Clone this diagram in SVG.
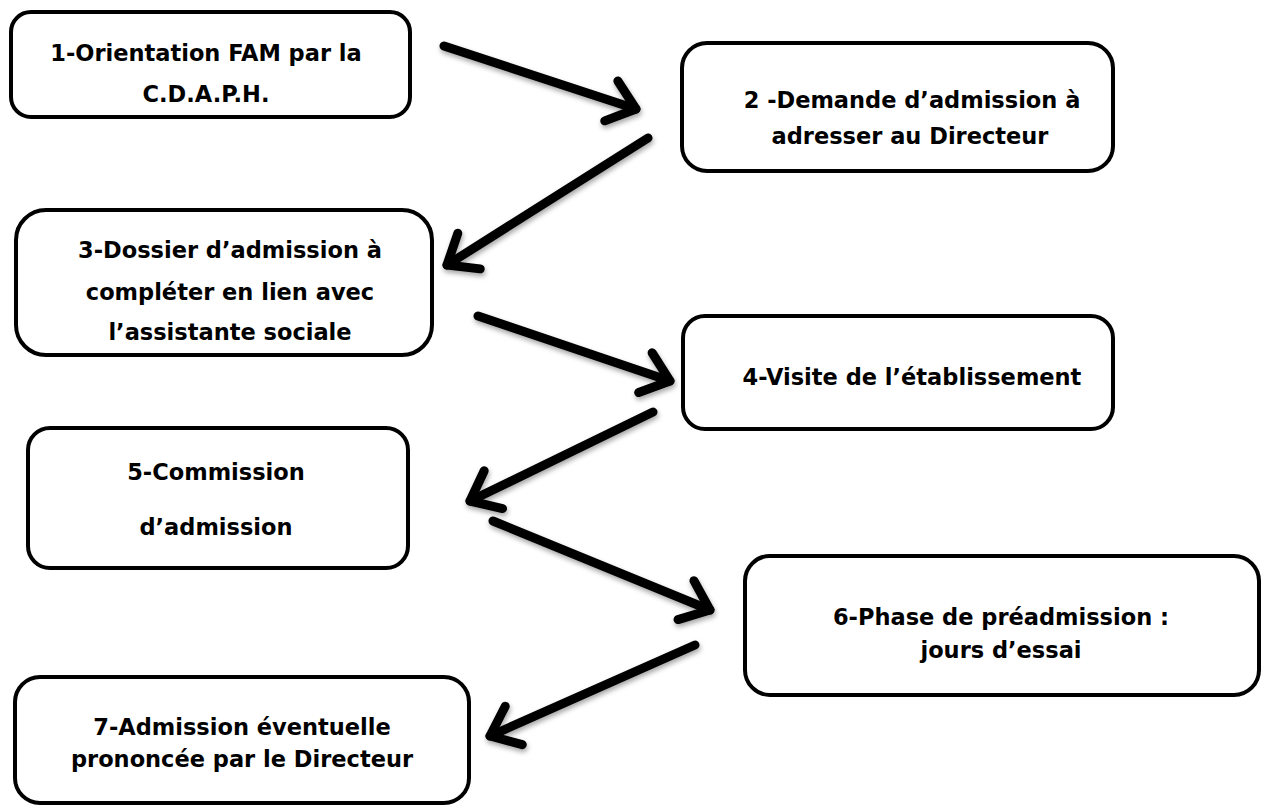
<svg xmlns="http://www.w3.org/2000/svg" width="1261" height="805" viewBox="0 0 1261 805">
  <style>
    .box { fill: #ffffff; stroke: #000000; stroke-width: 4; }
    .lbl { font-family: "DejaVu Sans", "Liberation Sans", sans-serif; font-weight: bold; font-size: 22.5px; fill: #000000; text-anchor: middle; }
    .arr { fill: none; stroke: #000000; stroke-width: 9; stroke-linecap: round; stroke-linejoin: round; }
  </style>
  <defs>
    <filter id="sh" x="-20%" y="-20%" width="140%" height="140%">
      <feDropShadow dx="1" dy="3" stdDeviation="2.5" flood-color="#000000" flood-opacity="0.35"/>
    </filter>
    <marker id="vhead" markerUnits="userSpaceOnUse" markerWidth="80" markerHeight="80" viewBox="-40 -40 80 80" refX="0" refY="0" orient="auto" overflow="visible">
      <path d="M -26 -21 L 0 0 L -26 21" fill="none" stroke="#000000" stroke-width="9" stroke-linecap="round" stroke-linejoin="round"/>
    </marker>
  </defs>
  <rect width="1261" height="805" fill="#ffffff"/>

  <g id="connectors" filter="url(#sh)">
    <line class="arr" x1="444" y1="46" x2="636" y2="109" marker-end="url(#vhead)"/>
    <line class="arr" x1="648" y1="138" x2="447" y2="265" marker-end="url(#vhead)"/>
    <line class="arr" x1="478" y1="316" x2="670" y2="381" marker-end="url(#vhead)"/>
    <line class="arr" x1="653" y1="412" x2="470" y2="501" marker-end="url(#vhead)"/>
    <line class="arr" x1="493" y1="521" x2="710" y2="610" marker-end="url(#vhead)"/>
    <line class="arr" x1="695" y1="645" x2="490" y2="736" marker-end="url(#vhead)"/>
  </g>

  <g id="node1">
    <rect class="box" x="11" y="12" width="399" height="105" rx="20"/>
    <text class="lbl" x="206" y="61">1-Orientation FAM par la</text>
    <text class="lbl" x="206" y="102">C.D.A.P.H.</text>
  </g>
  <g id="node2">
    <rect class="box" x="682" y="43" width="431" height="128" rx="25"/>
    <text class="lbl" x="912" y="108">2 -Demande d’admission à</text>
    <text class="lbl" x="910" y="144">adresser au Directeur</text>
  </g>
  <g id="node3">
    <rect class="box" x="16" y="210" width="416" height="145" rx="30"/>
    <text class="lbl" x="230" y="258">3-Dossier d’admission à</text>
    <text class="lbl" x="230" y="300">compléter en lien avec</text>
    <text class="lbl" x="230" y="340">l’assistante sociale</text>
  </g>
  <g id="node4">
    <rect class="box" x="683" y="316" width="430" height="113" rx="22"/>
    <text class="lbl" x="912" y="385">4-Visite de l’établissement</text>
  </g>
  <g id="node5">
    <rect class="box" x="28" y="428" width="380" height="140" rx="22"/>
    <text class="lbl" x="216" y="480">5-Commission</text>
    <text class="lbl" x="216" y="535">d’admission</text>
  </g>
  <g id="node6">
    <rect class="box" x="745" y="556" width="514" height="139" rx="25"/>
    <text class="lbl" x="1001" y="625">6-Phase de préadmission :</text>
    <text class="lbl" x="1001" y="658">jours d’essai</text>
  </g>
  <g id="node7">
    <rect class="box" x="15" y="677" width="454" height="126" rx="25"/>
    <text class="lbl" x="242" y="735">7-Admission éventuelle</text>
    <text class="lbl" x="242" y="767">prononcée par le Directeur</text>
  </g>
</svg>
